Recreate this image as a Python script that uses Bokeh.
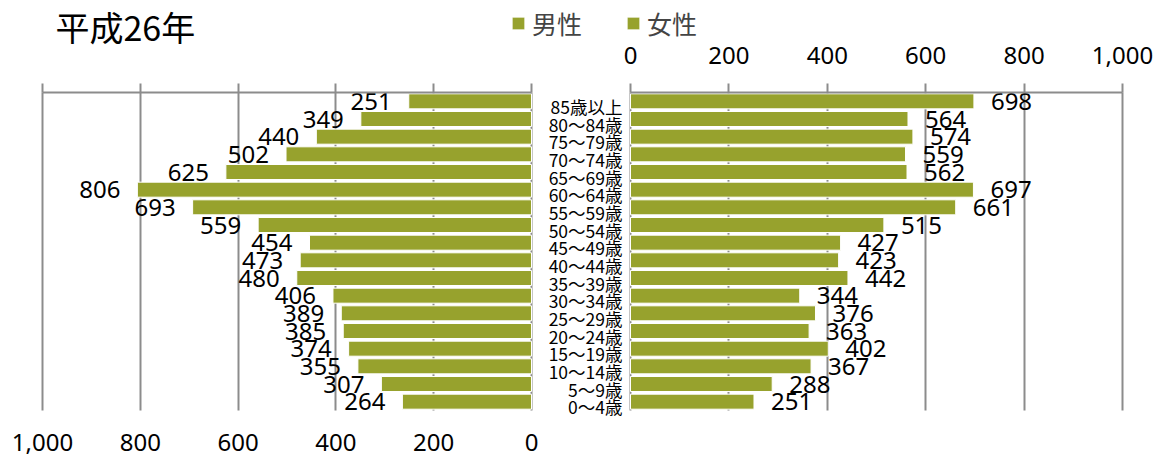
from bokeh.plotting import figure
from bokeh.models import (Range1d, LinearAxis, FixedTicker, NumeralTickFormatter,
                          Grid, Legend, LegendItem, Label, ColumnDataSource)
from bokeh.core.properties import value
from bokeh.embed import file_html
from bokeh.resources import INLINE

# ---------------- data ----------------
TITLE = "平成26年"
AGE_GROUPS = ["85歳以上", "80～84歳", "75～79歳", "70～74歳", "65～69歳", "60～64歳",
              "55～59歳", "50～54歳", "45～49歳", "40～44歳", "35～39歳", "30～34歳",
              "25～29歳", "20～24歳", "15～19歳", "10～14歳", "5～9歳", "0～4歳"]
MALE = [251, 349, 440, 502, 625, 806, 693, 559, 454, 473, 480, 406, 389, 385, 374, 355, 307, 264]
FEMALE = [698, 564, 574, 559, 562, 697, 661, 515, 427, 423, 442, 344, 376, 363, 402, 367, 288, 251]
SERIES_NAMES = ["男性", "女性"]
TICKS = [0, 200, 400, 600, 800, 1000]

# ---------------- layout constants ----------------
W, H = 1166, 457
BAND_TOP, BAND_BOTTOM = 92, 410
MALE_X1000, MALE_X0 = 42, 531
FEMALE_X0, FEMALE_X1000 = 630, 1122

GREEN = "#97A22D"
GRID = "#8c8c8c"
LATIN = "Noto Sans"
CJK = "Noto Sans CJK JP"

n = len(AGE_GROUPS)
src = ColumnDataSource(dict(
    age=AGE_GROUPS, y=list(range(n)), male=MALE, female=FEMALE,
    mlab=[str(v) for v in MALE], flab=[str(v) for v in FEMALE], zero=[0] * n))

f_scale = (FEMALE_X1000 - FEMALE_X0) / 1000.0
female_range = Range1d(-FEMALE_X0 / f_scale, (W - FEMALE_X0) / f_scale)
m_scale = (MALE_X0 - MALE_X1000) / 1000.0
male_range = Range1d(MALE_X0 / m_scale, -(W - MALE_X0) / m_scale)

band = (BAND_BOTTOM - BAND_TOP) / n
y_top_edge, y_bot_edge = -0.5, n - 0.5
y_range = Range1d(y_bot_edge + (H - BAND_BOTTOM) / band, y_top_edge - BAND_TOP / band)

p = figure(width=W, height=H, x_range=female_range, y_range=y_range,
           output_backend="svg", toolbar_location=None,
           x_axis_location=None, y_axis_location=None,
           min_border_left=0, min_border_right=0, min_border_top=0, min_border_bottom=0)
p.extra_x_ranges = {"male": male_range}
p.outline_line_color = None
p.background_fill_color = "white"
p.center = [r for r in p.center if not isinstance(r, Grid)]

# grids
for rn in ["male", "default"]:
    p.add_layout(Grid(dimension=0, ticker=FixedTicker(ticks=TICKS), x_range_name=rn,
                      bounds=(0, 1000), cross_bounds=(y_bot_edge, y_top_edge),
                      grid_line_color=GRID, grid_line_width=2), "center")

# bars
male_r = p.hbar(y="y", left=0, right="male", height=0.85, source=src, x_range_name="male",
                fill_color=GREEN, line_color="white", line_width=1)
female_r = p.hbar(y="y", left=0, right="female", height=0.85, source=src,
                  fill_color=GREEN, line_color="white", line_width=1)

# data labels
p.text(x="male", y="y", text="mlab", source=src, x_range_name="male",
       text_align="right", text_baseline="middle", x_offset=-17, y_offset=0,
       text_font=value(LATIN), text_font_size="24px", text_color="black")
p.text(x="female", y="y", text="flab", source=src,
       text_align="left", text_baseline="middle", x_offset=17, y_offset=0,
       text_font=value(LATIN), text_font_size="24px", text_color="black")

# age labels
p.text(x="zero", y="y", text="age", source=src,
       text_align="right", text_baseline="middle", x_offset=-8, y_offset=5,
       text_font=value(CJK), text_font_size="17.5px", text_color="black")

# axes
common = dict(ticker=FixedTicker(ticks=TICKS), formatter=NumeralTickFormatter(format="0,0"),
              bounds=(0, 1000), minor_tick_line_color=None,
              major_label_text_font=LATIN, major_label_text_font_size="24px",
              major_label_text_color="black")

top_f = LinearAxis(fixed_location=y_top_edge, axis_line_color=GRID, axis_line_width=2,
                   major_tick_line_color=GRID, major_tick_line_width=2,
                   major_tick_in=0, major_tick_out=9, major_label_standoff=20, **common)
p.add_layout(top_f, "above")

top_m = LinearAxis(x_range_name="male", fixed_location=y_top_edge, axis_line_color=GRID,
                   axis_line_width=2, major_tick_line_color=GRID, major_tick_line_width=2,
                   major_tick_in=0, major_tick_out=9, major_label_standoff=10,
                   major_label_overrides={t: "" for t in TICKS}, **common)
p.add_layout(top_m, "above")

bot_m = LinearAxis(x_range_name="male", fixed_location=y_bot_edge, axis_line_color=None,
                   major_tick_line_color=None, major_tick_in=0, major_tick_out=0,
                   major_label_standoff=23, **common)
p.add_layout(bot_m, "below")

# legend
legend = Legend(items=[LegendItem(label=SERIES_NAMES[0], renderers=[male_r]),
                       LegendItem(label=SERIES_NAMES[1], renderers=[female_r])],
                orientation="horizontal", location=(510, H - 41),
                glyph_width=16, glyph_height=16, label_standoff=6, spacing=43,
                padding=0, margin=0, border_line_color=None, background_fill_alpha=0,
                label_text_font=CJK, label_text_font_size="25px")
p.add_layout(legend, "center")

# title
p.add_layout(Label(x=55, y=H - 26, x_units="screen", y_units="screen",
                   text=TITLE, text_font=CJK, text_font_size="34px",
                   text_baseline="middle", text_color="black"))

open("out.html", "w").write(file_html(p, INLINE))
